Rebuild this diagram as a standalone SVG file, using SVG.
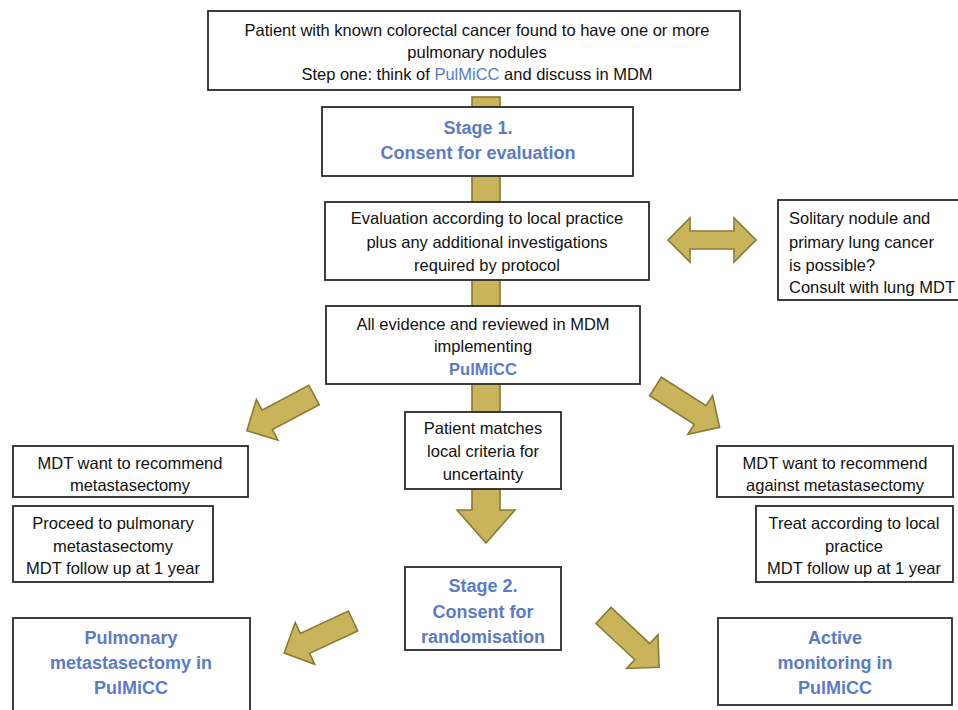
<svg xmlns="http://www.w3.org/2000/svg" width="958" height="710" viewBox="0 0 958 710">
<style>
.box{fill:#fff;stroke:#2a2a2a;stroke-width:1.8}
.t{font-family:"Liberation Sans",Arial,sans-serif;font-size:16.5px;fill:#111;text-anchor:middle}
.l{text-anchor:start}
.b{font-family:"Liberation Sans",Arial,sans-serif;font-size:18px;font-weight:bold;fill:#5b7bc6;text-anchor:middle}
.blue{fill:#5b7bc6}
.arr{fill:#c9b45c;stroke:#8a7a32;stroke-width:1.6;stroke-linejoin:miter}
</style>
<defs>
<path id="ba" d="M0,-11 H53 V-23 L76,0 L53,23 V11 H0 Z"/>
</defs>
<rect width="958" height="710" fill="#fff"/>
<g id="connectors">
<rect class="arr" x="472" y="97" width="28" height="315"/>
<path class="arr" d="M472,489 H500 V510 H515 L486,543 L457,510 H472 Z"/>
<path class="arr" d="M668,240 L690,218 V231 H734 V218 L756,240 L734,262 V249 H690 V262 Z"/>
<use href="#ba" class="arr" transform="translate(314,395) rotate(152)"/>
<use href="#ba" class="arr" transform="translate(655.5,386.5) rotate(32.5)"/>
<use href="#ba" class="arr" transform="translate(353,621) rotate(155)"/>
<use href="#ba" class="arr" transform="translate(603.5,615.5) rotate(43)"/>
</g>
<g id="n-top">
<rect class="box" x="208" y="11" width="532" height="79"/>
<text class="t" x="477" y="36">Patient with known colorectal cancer found to have one or more</text>
<text class="t" x="477" y="58">pulmonary nodules</text>
<text class="t" x="477" y="80">Step one: think of <tspan class="blue">PulMiCC</tspan> and discuss in MDM</text>
</g>
<g id="n-stage1">
<rect class="box" x="322" y="107" width="311" height="69"/>
<text class="b" x="478" y="134">Stage 1.</text>
<text class="b" x="478" y="159">Consent for evaluation</text>
</g>
<g id="n-eval">
<rect class="box" x="325" y="202" width="324" height="78"/>
<text class="t" x="487" y="224">Evaluation according to local practice</text>
<text class="t" x="487" y="248">plus any additional investigations</text>
<text class="t" x="487" y="271">required by protocol</text>
</g>
<g id="n-solitary">
<rect class="box" x="778" y="200" width="184" height="100"/>
<text class="t l" x="789" y="224">Solitary nodule and</text>
<text class="t l" x="789" y="248">primary lung cancer</text>
<text class="t l" x="789" y="271">is possible?</text>
<text class="t l" x="789" y="293">Consult with lung MDT</text>
</g>
<g id="n-evidence">
<rect class="box" x="326" y="306" width="314" height="78"/>
<text class="t" x="483" y="330">All evidence and reviewed in MDM</text>
<text class="t" x="483" y="352">implementing</text>
<text class="t blue" x="483" y="375" font-weight="bold">PulMiCC</text>
</g>
<g id="n-uncertainty">
<rect class="box" x="405" y="412" width="156" height="77"/>
<text class="t" x="483" y="434">Patient matches</text>
<text class="t" x="483" y="457">local criteria for</text>
<text class="t" x="483" y="480">uncertainty</text>
</g>
<g id="n-mdt-for">
<rect class="box" x="13" y="446" width="235" height="51"/>
<text class="t" x="130" y="469">MDT want to recommend</text>
<text class="t" x="130" y="491">metastasectomy</text>
</g>
<g id="n-proceed">
<rect class="box" x="13" y="506" width="200" height="76"/>
<text class="t" x="113" y="529">Proceed to pulmonary</text>
<text class="t" x="113" y="552">metastasectomy</text>
<text class="t" x="113" y="574">MDT follow up at 1 year</text>
</g>
<g id="n-mdt-against">
<rect class="box" x="717" y="446" width="236" height="51"/>
<text class="t" x="835" y="469">MDT want to recommend</text>
<text class="t" x="835" y="491">against metastasectomy</text>
</g>
<g id="n-treat">
<rect class="box" x="756" y="506" width="197" height="76"/>
<text class="t" x="854" y="529">Treat according to local</text>
<text class="t" x="854" y="552">practice</text>
<text class="t" x="854" y="574">MDT follow up at 1 year</text>
</g>
<g id="n-stage2">
<rect class="box" x="405" y="567" width="156" height="83"/>
<text class="b" x="483" y="592">Stage 2.</text>
<text class="b" x="483" y="618">Consent for</text>
<text class="b" x="483" y="643" font-size="17">randomisation</text>
</g>
<g id="n-pulm">
<rect class="box" x="13" y="618" width="237" height="100"/>
<text class="b" x="131" y="644">Pulmonary</text>
<text class="b" x="131" y="669">metastasectomy in</text>
<text class="b" x="131" y="694">PulMiCC</text>
</g>
<g id="n-active">
<rect class="box" x="718" y="618" width="234" height="87"/>
<text class="b" x="835" y="644">Active</text>
<text class="b" x="835" y="669">monitoring in</text>
<text class="b" x="835" y="694">PulMiCC</text>
</g>
</svg>
